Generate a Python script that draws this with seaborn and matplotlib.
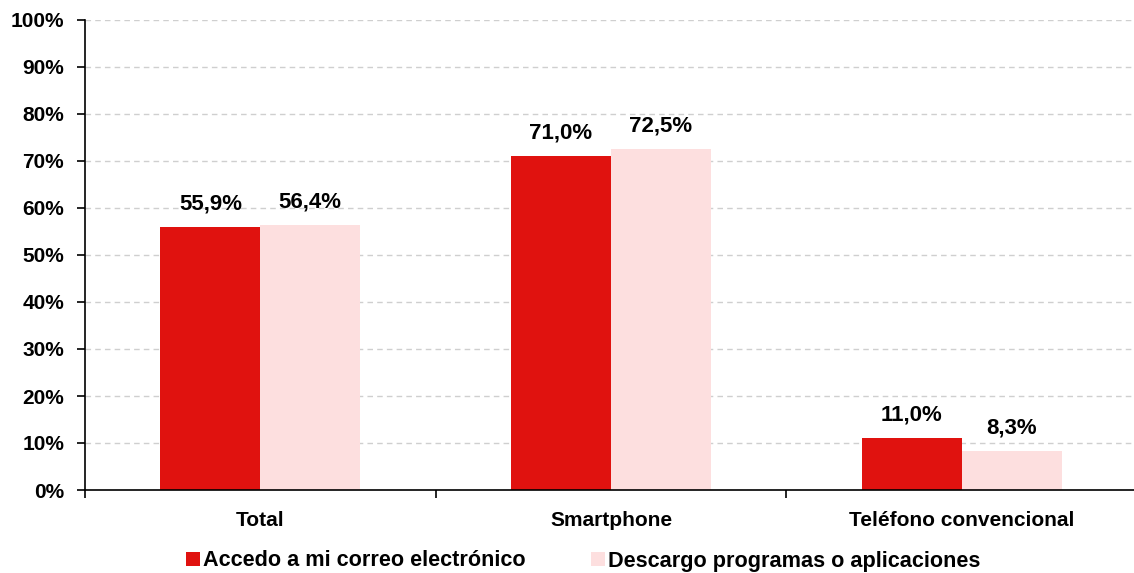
import matplotlib
matplotlib.use("Agg")
import matplotlib.pyplot as plt
import matplotlib.ticker as mticker
import seaborn as sns
import pandas as pd

categories = ["Total", "Smartphone", "Teléfono convencional"]
series_names = ["Accedo a mi correo electrónico", "Descargo programas o aplicaciones"]
correo = [55.9, 71.0, 11.0]
descargo = [56.4, 72.5, 8.3]
colors = ["#E0120F", "#FDDFDF"]

df = pd.DataFrame({
    "categoria": categories * 2,
    "serie": [series_names[0]] * 3 + [series_names[1]] * 3,
    "valor": correo + descargo,
})

sns.set_theme(style="white")
plt.rcParams["font.family"] = ["Liberation Sans", "DejaVu Sans"]
plt.rcParams["font.weight"] = "bold"
plt.rcParams["text.color"] = "black"
plt.rcParams["xtick.color"] = "black"
plt.rcParams["ytick.color"] = "black"

fig = plt.figure(figsize=(11.34, 5.73), dpi=100)
ax = fig.add_axes([85 / 1134, 83 / 573, 1052 / 1134, 470 / 573])

sns.barplot(data=df, x="categoria", y="valor", hue="serie", order=categories,
            hue_order=series_names, palette=colors, width=0.57, gap=0,
            saturation=1, linewidth=0, ax=ax, legend=False)

ax.set_xlim(-0.5, 2.5)
ax.set_ylim(0, 100)
ax.yaxis.set_major_locator(mticker.MultipleLocator(10))
ax.yaxis.set_major_formatter(mticker.FuncFormatter(lambda v, p: f"{int(round(v))}%"))
ax.set_axisbelow(True)
ax.yaxis.grid(True, color="#CFCFCF", linestyle=(0, (4, 3)), linewidth=1)
ax.xaxis.grid(False)

for side in ["top", "right"]:
    ax.spines[side].set_visible(False)
for side in ["left", "bottom"]:
    ax.spines[side].set_color("black")
    ax.spines[side].set_linewidth(1.2)

ax.set_xlabel("")
ax.set_ylabel("")
ax.set_xticks(range(len(categories)))
ax.set_xticklabels(categories, fontsize=15, fontweight="bold", color="black")
ax.tick_params(axis="x", which="major", length=0, pad=15)
ax.set_xticks([-0.5, 0.5, 1.5, 2.5], minor=True)
ax.tick_params(axis="x", which="minor", length=6, width=1.2, color="black", direction="out", bottom=True)
ax.tick_params(axis="y", length=6, width=1.2, color="black", direction="out", left=True,
               labelsize=15, labelcolor="black", pad=9)
for lab in ax.get_yticklabels():
    lab.set_fontweight("bold")

for container in ax.containers:
    labels = [f"{b.get_height():.1f}".replace(".", ",") + "%" for b in container]
    ax.bar_label(container, labels=labels, padding=9, fontsize=16, fontweight="bold", color="black")

handles = [plt.Rectangle((0, 0), 1, 1, facecolor=c, edgecolor="none") for c in colors]
fig.legend(handles, series_names, loc="center", bbox_to_anchor=(583 / 1134, 1 - 561 / 573),
           ncol=2, frameon=False, handlelength=0.65, handleheight=0.65,
           handletextpad=0.15, columnspacing=3.0, borderpad=0.2,
           prop={"weight": "bold", "size": 15.6})

fig.savefig("out.png", dpi=100)
